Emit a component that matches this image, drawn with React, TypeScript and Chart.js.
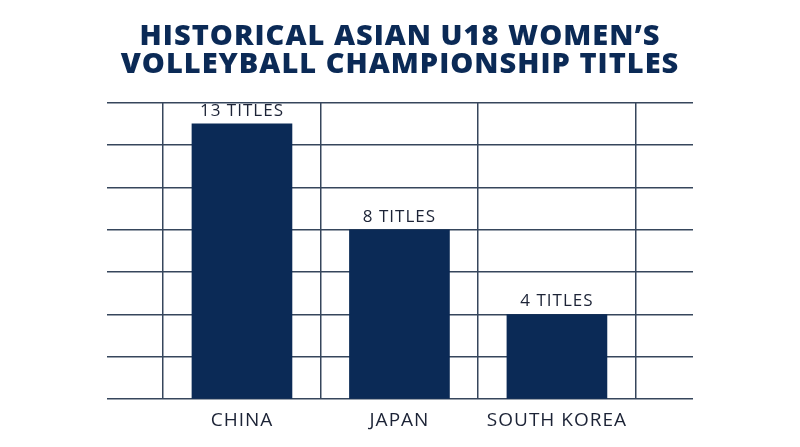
import React, { useEffect, useRef } from "react";
import { Chart, registerables } from "chart.js";

Chart.register(...registerables);

const categories = ["CHINA", "JAPAN", "SOUTH KOREA"];
const titles = [13, 8, 4];
const valueLabels = ["13 TITLES", "8 TITLES", "4 TITLES"];
const titleLines = ["HISTORICAL ASIAN U18 WOMEN’S", "VOLLEYBALL CHAMPIONSHIP TITLES"];

const NAVY = "#0b2a56";
const GRID = "#36465c";
const TEXT = "#1c2336";

const spacingPlugin = {
  id: "spacing",
  beforeUpdate(chart: any) {
    chart.ctx.letterSpacing = "1px";
  },
  beforeDraw(chart: any) {
    chart.ctx.letterSpacing = "1px";
  },
};

const barLabelPlugin = {
  id: "barLabels",
  afterDatasetsDraw(chart: any) {
    const ctx = chart.ctx;
    const meta = chart.getDatasetMeta(0);
    ctx.save();
    ctx.letterSpacing = "1px";
    ctx.font = "17px 'Open Sans'";
    ctx.fillStyle = TEXT;
    ctx.textAlign = "center";
    ctx.textBaseline = "alphabetic";
    meta.data.forEach((el: any, i: number) => {
      ctx.fillText(valueLabels[i], el.x, el.y - 8);
    });
    ctx.restore();
  },
};

export default function App() {
  const ref = useRef<HTMLCanvasElement | null>(null);
  useEffect(() => {
    if (!ref.current) return;
    const chart = new Chart(ref.current, {
      type: "bar",
      data: {
        datasets: [
          {
            data: titles.map((v, i) => ({ x: i + 1, y: v })),
            backgroundColor: NAVY,
            barThickness: 100,
            borderWidth: 0,
          },
        ],
      },
      options: {
        animation: false,
        responsive: false,
        maintainAspectRatio: false,
        layout: { padding: { left: 107, right: 107, top: 10, bottom: 5 } },
        plugins: {
          legend: { display: false },
          tooltip: { enabled: false },
          title: {
            display: true,
            text: titleLines,
            color: NAVY,
            font: { family: "'Open Sans'", weight: 800, size: 29, lineHeight: 0.95 },
            padding: { top: 13, bottom: 24.5 },
          },
        },
        scales: {
          x: {
            type: "linear",
            offset: false,
            min: 0.143,
            max: 3.864,
            afterBuildTicks: (scale: any) => {
              scale.ticks = [0.5, 1, 1.5, 2, 2.5, 3, 3.5].map((v) => ({ value: v }));
            },
            border: { display: false },
            grid: {
              offset: false,
              drawTicks: false,
              lineWidth: 1.5,
              color: (c: any) => (c.tick && c.tick.value % 1 === 0 ? "rgba(0,0,0,0)" : GRID),
            },
            ticks: {
              autoSkip: false,
              maxRotation: 0,
              padding: 10,
              color: TEXT,
              font: { family: "'Open Sans'", size: 19 },
              callback: (v: any) => (Number(v) % 1 === 0 ? categories[Number(v) - 1] : ""),
            },
          },
          y: {
            min: 0,
            max: 14,
            ticks: { display: false, stepSize: 2 },
            border: { display: false },
            grid: { drawTicks: false, lineWidth: 1.5, color: GRID },
          },
        },
      },
      plugins: [spacingPlugin, barLabelPlugin],
    });
    return () => chart.destroy();
  }, []);
  return (
    <div style={{ position: "absolute", left: 0, top: 0, width: 800, height: 447, background: "#fff" }}>
      <canvas ref={ref} width={800} height={447} style={{ width: 800, height: 447 }} />
    </div>
  );
}
